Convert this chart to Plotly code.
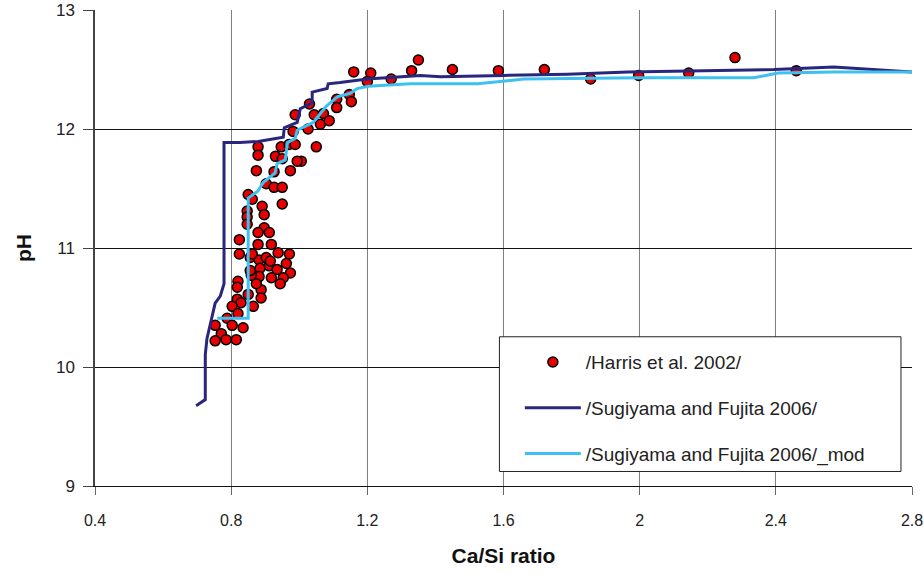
import plotly.graph_objects as go

# Harris et al. 2002 measured points (Ca/Si ratio, pH)
harris_x = [1.16, 1.21, 1.20, 1.27, 1.33, 1.35, 1.45, 1.585, 1.72, 1.856, 1.997, 2.144, 2.28, 2.46,
            1.11, 1.11, 1.147, 1.153, 1.03, 0.988, 1.044, 1.071, 1.062, 1.088, 0.982, 1.026, 1.05, 1.006,
            0.947, 0.97, 0.988, 0.879, 0.879, 0.93, 0.95, 0.874, 0.926, 0.974, 0.994, 0.903, 0.926, 0.95,
            0.85, 0.862, 0.891, 0.95, 0.847, 0.847, 0.897, 0.847, 0.897, 0.879, 0.912, 0.824, 0.879, 0.918,
            0.938, 0.971, 0.824, 0.856, 0.882, 0.903, 0.962, 0.885, 0.912, 0.935, 0.974, 0.953, 0.944, 0.918,
            0.882, 0.859, 0.82, 0.818, 0.85, 0.888, 0.888, 0.818, 0.829, 0.865, 0.803, 0.788, 0.82, 0.803,
            0.835, 0.753, 0.771, 0.753, 0.785, 0.815, 0.862, 0.915, 0.856, 0.874]
harris_y = [12.48, 12.47, 12.40, 12.42, 12.49, 12.58, 12.50, 12.49, 12.50, 12.42, 12.45, 12.47, 12.60, 12.49,
            12.25, 12.18, 12.29, 12.23, 12.21, 12.12, 12.12, 12.13, 12.04, 12.07, 11.98, 12.00, 11.85, 11.73,
            11.85, 11.87, 11.87, 11.85, 11.78, 11.77, 11.75, 11.65, 11.64, 11.65, 11.73, 11.54, 11.51, 11.51,
            11.45, 11.41, 11.35, 11.37, 11.31, 11.26, 11.28, 11.20, 11.17, 11.13, 11.13, 11.07, 11.03, 11.03,
            10.96, 10.95, 10.95, 10.92, 10.90, 10.92, 10.87, 10.83, 10.85, 10.82, 10.79, 10.75, 10.70, 10.75,
            10.76, 10.77, 10.72, 10.67, 10.61, 10.65, 10.58, 10.57, 10.54, 10.51, 10.51, 10.41, 10.45, 10.35,
            10.33, 10.35, 10.28, 10.22, 10.23, 10.23, 10.95, 10.89, 10.81, 10.70]

# Sugiyama and Fujita 2006 model
sugi_x = [0.697, 0.724, 0.724, 0.729, 0.753, 0.768, 0.779, 0.779, 0.826, 0.879, 0.953, 0.956, 0.994,
          1.003, 1.038, 1.038, 1.082, 1.085, 1.12, 1.2, 1.356, 1.415, 1.60, 1.788, 1.965, 2.394, 2.57, 2.8]
sugi_y = [9.675, 9.726, 10.105, 10.24, 10.536, 10.595, 10.70, 11.886, 11.886, 11.895, 11.93, 12.01, 12.055,
          12.17, 12.22, 12.31, 12.34, 12.38, 12.39, 12.42, 12.45, 12.44, 12.45, 12.46, 12.48, 12.50, 12.52, 12.48]

# Sugiyama and Fujita 2006 model, modified
mod_x = [0.759, 0.85, 0.85, 0.879, 0.894, 0.929, 0.935, 0.959, 0.965, 0.988, 0.994, 1.026, 1.041,
         1.079, 1.112, 1.15, 1.17, 1.203, 1.326, 1.524, 1.659, 2.003, 2.335, 2.406, 2.57, 2.8]
mod_y = [10.41, 10.41, 11.42, 11.48, 11.55, 11.63, 11.71, 11.74, 11.886, 11.92, 11.99, 12.03, 12.055,
         12.19, 12.27, 12.30, 12.34, 12.36, 12.38, 12.38, 12.42, 12.43, 12.43, 12.47, 12.48, 12.48]

x_ticks = [0.4, 0.8, 1.2, 1.6, 2.0, 2.4, 2.8]
x_tick_labels = ["0.4", "0.8", "1.2", "1.6", "2", "2.4", "2.8"]
y_ticks = [9, 10, 11, 12, 13]

FONT = "Liberation Sans, Arial, sans-serif"

fig = go.Figure()
fig.add_trace(go.Scatter(
    x=harris_x, y=harris_y, mode="markers", name="/Harris et al. 2002/",
    legendgroup="a",
    marker=dict(size=10, color="#e60000", line=dict(color="black", width=1.5)),
))
fig.add_trace(go.Scatter(
    x=sugi_x, y=sugi_y, mode="lines", name="/Sugiyama and Fujita 2006/",
    legendgroup="b",
    line=dict(color="#29277d", width=3),
))
fig.add_trace(go.Scatter(
    x=mod_x, y=mod_y, mode="lines", name="/Sugiyama and Fujita 2006/_mod",
    legendgroup="c",
    line=dict(color="#3ec0f0", width=3),
))

# legend frame (drawn as a paper-referenced box behind the legend entries)
fig.add_shape(type="rect", xref="paper", yref="paper",
              x0=0.495, x1=0.9865, y0=0.0305, y1=0.3135,
              line=dict(color="#222", width=1), fillcolor="white", layer="above")

fig.update_layout(
    width=924, height=574,
    margin=dict(l=95, r=12, t=10, b=88),
    plot_bgcolor="white", paper_bgcolor="white",
    font=dict(family=FONT, size=16, color="#222"),
    showlegend=True,
    legend=dict(
        x=0.52, y=0.30, xanchor="left", yanchor="top",
        bgcolor="rgba(0,0,0,0)", borderwidth=0,
        font=dict(family=FONT, size=19, color="#222"),
        tracegroupgap=18, itemwidth=56,
    ),
    xaxis=dict(
        range=[0.4, 2.8], tickvals=x_ticks, ticktext=x_tick_labels,
        showgrid=True, gridcolor="#808080", gridwidth=1.2,
        ticks="outside", ticklen=8, tickcolor="#666",
        showline=True, linecolor="#111", linewidth=1.2,
        zeroline=False, ticklabelstandoff=12, automargin=False,
        tickfont=dict(family=FONT, size=16, color="#222"),
        title=dict(text="<b>Ca/Si ratio</b>", font=dict(family=FONT, size=21, color="#111"), standoff=20),
    ),
    yaxis=dict(
        range=[9, 13], tickvals=y_ticks,
        showgrid=True, gridcolor="#111", gridwidth=1,
        ticks="outside", ticklen=10, tickcolor="#444",
        showline=True, linecolor="#444", linewidth=1.5,
        zeroline=False, ticklabelstandoff=5, automargin=False,
        tickfont=dict(family=FONT, size=17, color="#222"),
        title=dict(text="<b>pH</b>", font=dict(family=FONT, size=21, color="#111"), standoff=19),
    ),
)

fig.write_html("out.html")
